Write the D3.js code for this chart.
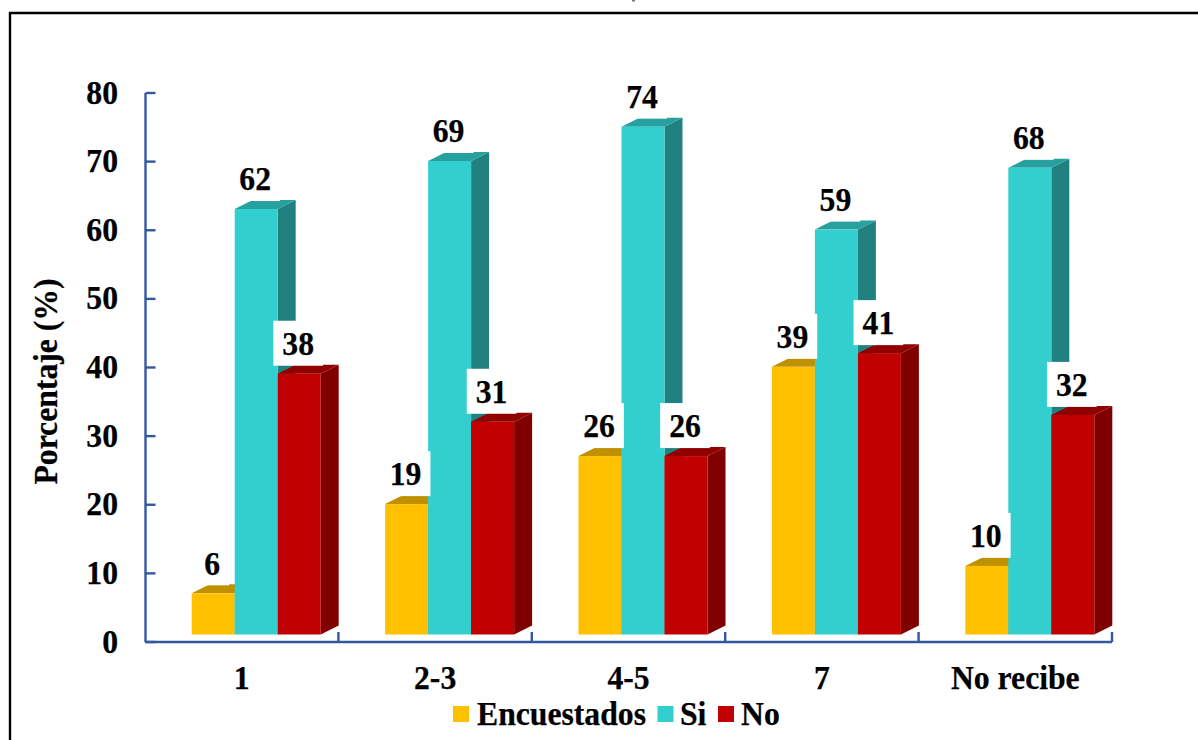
<!DOCTYPE html>
<html lang="es">
<head>
<meta charset="utf-8">
<title>Porcentaje por categoría</title>
<script src="https://cdn.jsdelivr.net/npm/d3@7/dist/d3.min.js"></script>
<style>
  html, body { margin: 0; padding: 0; background: #fff; }
  svg { display: block; }
  text { font-family: "Liberation Serif", "Times New Roman", serif; font-weight: bold; fill: #000; font-size: 33px; stroke: #000; stroke-width: 0.25px; }
  .axis path, .axis line { stroke: #3358a0; stroke-width: 2.4; fill: none; }
</style>
</head>
<body>
<div id="chart"></div>
<script>
// Values shown on the chart
const categories = ["1", "2-3", "4-5", "7", "No recibe"];
const seriesNames = ["Encuestados", "Si", "No"];
const encuestados = [6, 19, 26, 39, 10];
const si = [62, 69, 74, 59, 68];
const no = [38, 31, 26, 41, 32];
const yTicks = [0, 10, 20, 30, 40, 50, 60, 70, 80];

// Front, top and side shades for each series
const frontColors = ["#FFC000", "#33CFCF", "#C00000"];
const topColors = ["#BF9000", "#27A0A0", "#900000"];
const sideColors = ["#A67C00", "#218080", "#800000"];

const width = 1198, height = 740;
const axisLeft = 145.5, axisRight = 1112, axisBottom = 642, axisTop = 93;
const depthX = 18, depthY = 9, floorLift = 7.5;
const labelGap = 18.7, boxGap = 8, boxHeight = 45, boxPadding = 9;
const textSquish = 0.96;

const svg = d3.select("#chart").append("svg")
  .attr("width", width).attr("height", height);

// Outer frame: only the top and left edges fall inside the page
svg.append("path")
  .attr("d", d3.line()([[10, 740], [10, 13], [1198, 13]]))
  .attr("fill", "none").attr("stroke", "#000").attr("stroke-width", 2.4);

// Scrap of clipped title at the very top edge
svg.append("rect").attr("x", 632).attr("y", 0).attr("width", 3).attr("height", 1.5).attr("fill", "#777");

const y = d3.scaleLinear().domain([0, 80]).range([axisBottom, axisTop]);
const x0 = d3.scaleBand().domain(categories).range([145, axisRight]);
const x1 = d3.scaleBand().domain(seriesNames).range([46.7, 175.7]);
const edges = d3.scaleLinear().domain([0, categories.length]).range([145, axisRight]);

// Value axis with inward ticks
svg.append("g").attr("class", "axis")
  .attr("transform", `translate(${axisLeft},0)`)
  .call(d3.axisLeft(y).offset(0).tickValues(yTicks).tickSizeInner(-10).tickSizeOuter(0).tickPadding(27.5));

// Category axis: inward separators between groups, then the centred names
svg.append("g").attr("class", "axis")
  .attr("transform", `translate(0,${axisBottom})`)
  .call(d3.axisBottom(edges).offset(0).tickValues(d3.range(1, categories.length + 1)).tickSizeInner(-10).tickSizeOuter(0).tickFormat(""));
svg.append("g").attr("class", "axis")
  .attr("transform", `translate(0,${axisBottom})`)
  .call(d3.axisBottom(x0).offset(0).tickSize(0).tickPadding(23.5))
  .call(g => g.select(".domain").remove());

// Pseudo-3D columns, left to right so each one overlaps the previous side face
const seriesValues = [encuestados, si, no];
const barW = x1.bandwidth();
const frontY = v => y(v) - floorLift;
const poly = pts => d3.line()(pts) + "Z";

const labels = [];
categories.forEach((cat, c) => {
  const group = svg.append("g").attr("class", "group");
  seriesNames.forEach((name, s) => {
    const v = seriesValues[s][c];
    const xl = x0(cat) + x1(name), xr = xl + barW;
    const yt = frontY(v), yb = frontY(0);
    group.append("path").attr("fill", sideColors[s])
      .attr("d", poly([[xr, yt], [xr + depthX, yt - depthY], [xr + depthX, yb - depthY], [xr, yb]]));
    group.append("path").attr("fill", topColors[s])
      .attr("d", poly([[xl, yt], [xl + depthX, yt - depthY], [xr + depthX, yt - depthY], [xr, yt]]));
    group.append("rect").attr("fill", frontColors[s])
      .attr("x", xl).attr("y", yt).attr("width", barW).attr("height", yb - yt);
    labels.push({ v, cx: xl + barW / 2 - 1, yt });
  });
});

// Value labels sit on white boxes painted above every column
const labelLayer = svg.append("g").attr("class", "labels");
labels.forEach(d => {
  const box = labelLayer.append("rect").attr("fill", "#fff");
  const t = labelLayer.append("text")
    .attr("x", d.cx).attr("y", d.yt - labelGap)
    .attr("text-anchor", "middle").text(d.v);
  const w = t.node().getComputedTextLength() * textSquish + boxPadding * 2;
  box.attr("x", d.cx - w / 2).attr("y", d.yt - boxGap - boxHeight)
    .attr("width", w).attr("height", boxHeight);
});

// Value axis title
svg.append("text")
  .attr("transform", "translate(57,381.5) rotate(-90)")
  .attr("text-anchor", "middle")
  .text("Porcentaje (%)");

// Legend
const legendSwatchX = [453, 657.5, 718];
const legendTextX = [477, 680, 741];
seriesNames.forEach((name, s) => {
  svg.append("rect").attr("x", legendSwatchX[s]).attr("y", 706)
    .attr("width", 16).attr("height", 16).attr("fill", frontColors[s]);
  svg.append("text").attr("x", legendTextX[s]).attr("y", 724.5).text(name);
});

// The lettering runs slightly condensed throughout
svg.selectAll("text").each(function () {
  const len = this.getComputedTextLength();
  d3.select(this).attr("textLength", len * textSquish).attr("lengthAdjust", "spacingAndGlyphs");
});
</script>
</body>
</html>
